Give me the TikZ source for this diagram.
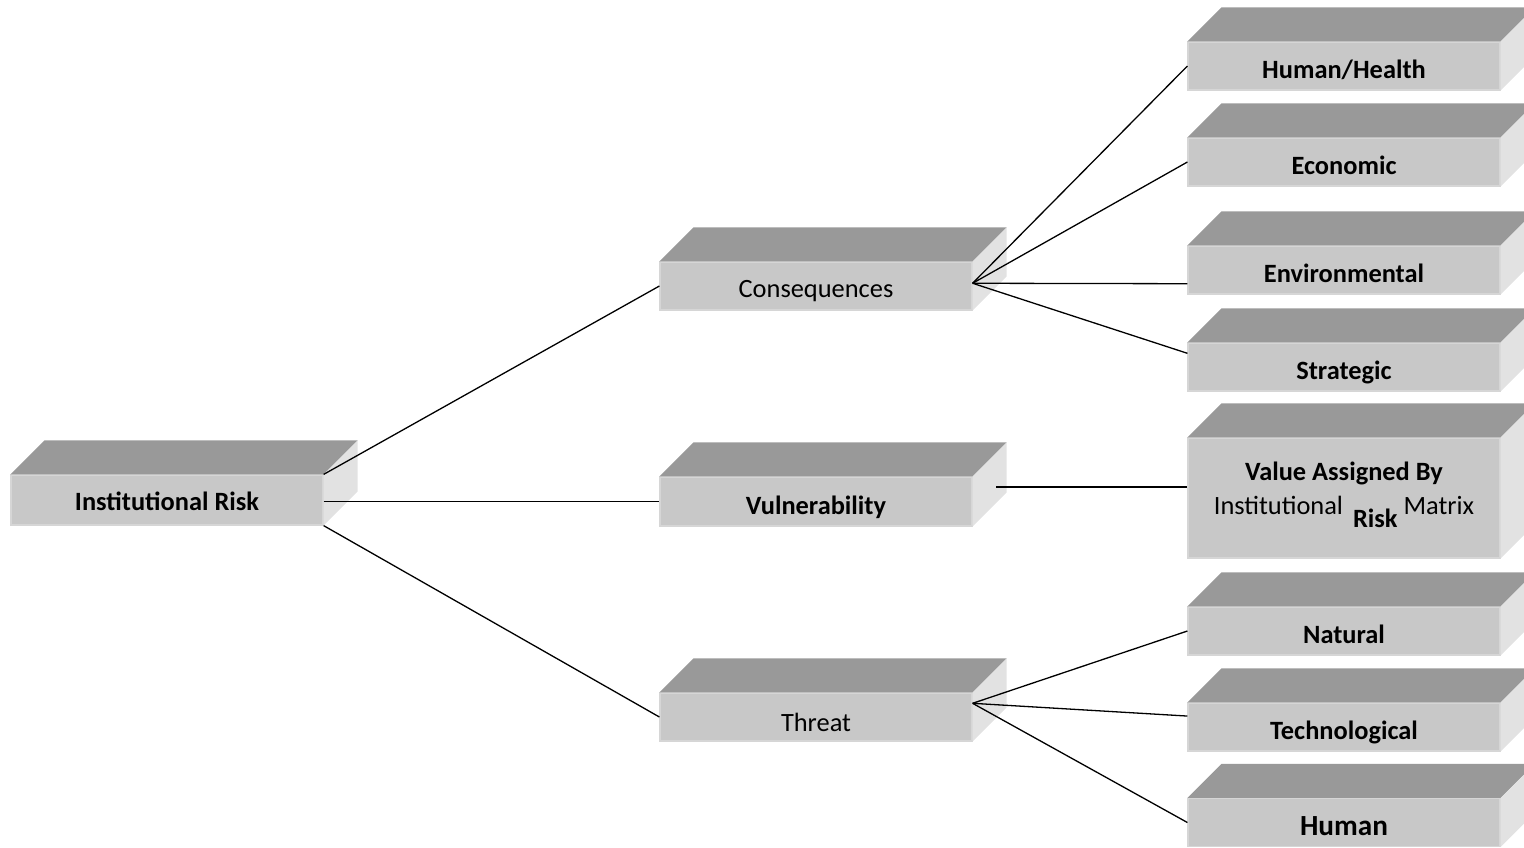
\documentclass[tikz,border=0pt]{standalone}
\usepackage{fontspec}
\setmainfont{Carlito}
\usetikzlibrary{positioning,calc}

\definecolor{frontgray}{RGB}{200,200,200}
\definecolor{edgegray}{RGB}{214,214,214}
\definecolor{topgray}{RGB}{153,153,153}
\definecolor{sidegray}{RGB}{226,226,226}

\tikzset{
  riskbox/.style={
    rectangle,
    fill=frontgray,
    draw=edgegray,
    line width=0.6pt,
    inner sep=0pt,
    minimum width=156pt,
    minimum height=24pt,
    text height=12.5pt,
    text depth=0pt,
    font=\fontsize{13.2}{16}\selectfont\bfseries},
  plainbox/.style={riskbox, font=\fontsize{13.2}{16}\selectfont},
  topface/.style={fill=topgray},
  sideface/.style={fill=sidegray},
  link/.style={draw=black, line width=0.65pt}
}

\begin{document}
\begin{tikzpicture}[x=0.5pt,y=-0.5pt]
  \useasboundingbox (0,0) rectangle (1524,847);

  \node[riskbox, minimum height=25pt, text height=10pt] (ir) at (167,500) {Institutional Risk};

  \node[plainbox, text height=11.5pt] (con) at (816,286) {Consequences};
  \node[riskbox, minimum height=24.5pt] (vul) at (816,501.5) {Vulnerability};
  \node[plainbox, text height=14.5pt] (thr) at (816,717) {Threat};

  \node[riskbox] (hh) at (1344,66) {Human/Health};
  \node[riskbox] (eco) at (1344,162) {Economic};
  \node[riskbox] (env) at (1344,270) {Environmental};
  \node[riskbox] (str) at (1344,367) {Strategic};

  \node[
  riskbox,
  minimum height=60pt,
  text height=,
  text depth=,
  align=center] (val) at (1344,498)
  {Value Assigned By\\[1pt]
   {\mdseries Institutional}\hspace{5pt}\raisebox{-6.5pt}[\height][10pt]{Risk}\hspace{3pt}{\mdseries Matrix}};

  \node[riskbox] (nat) at (1344,631) {Natural};
  \node[riskbox] (tec) at (1344,727) {Technological};
  \node[riskbox, font=\fontsize{14.6}{17}\selectfont\bfseries] (hum) at (1344,822.5) {Human};

  \foreach \n in {ir,con,vul,thr,hh,eco,env,str,val,nat,tec,hum} {
    \fill[topface] (\n.north west) -- ++(34,-34) -- ([shift={(34,-34)}]\n.north east) -- (\n.north east) -- cycle;
    \fill[sideface] (\n.north east) -- ++(34,-34) -- ([shift={(34,-34)}]\n.south east) -- (\n.south east) -- cycle;
  }

  \coordinate (vulside) at (996,487);

  \draw[link] (ir.north east) -- (con.west);
  \draw[link] (ir.east |- vul.west) -- (vul.west);
  \draw[link] (ir.south east) -- (thr.west);

  \draw[link] (con.1) -- (hh.west);
  \draw[link] (con.1) -- (eco.west);
  \draw[link] (con.1) -- (env.185);
  \draw[link] (con.1) -- (str.175);

  \draw[link] (vulside) -- (val.west |- vulside);

  \draw[link] (thr.5) -- (nat.west);
  \draw[link] (thr.5) -- (tec.176);
  \draw[link] (thr.5) -- (hum.west);
\end{tikzpicture}
\end{document}
